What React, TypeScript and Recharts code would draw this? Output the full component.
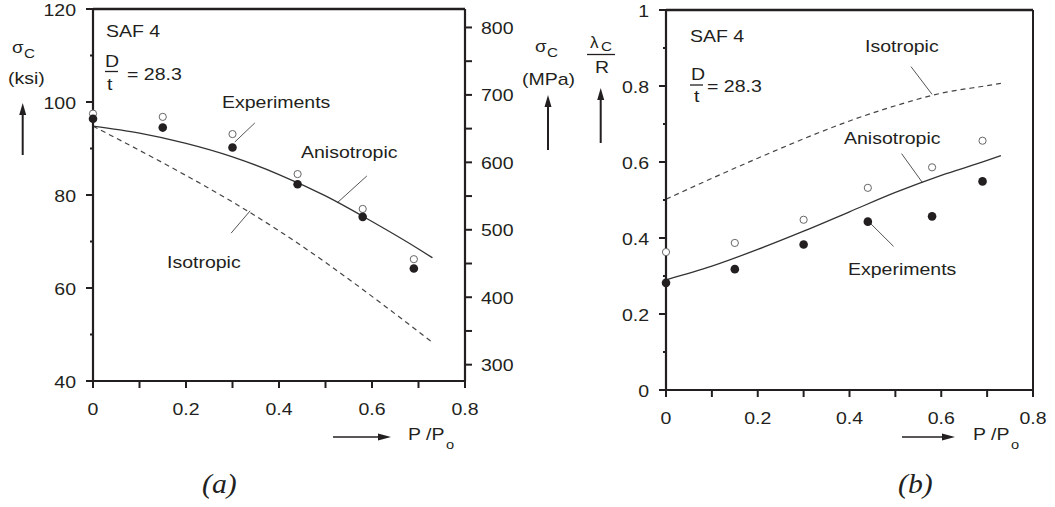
import React from 'react';
import { ComposedChart, Line, Scatter, XAxis, YAxis, ReferenceLine } from 'recharts';

const INK = '#231f20';
const FONT = '"Liberation Sans", Arial, Helvetica, sans-serif';
const SX = 1.22; // the scanned figure is stretched sideways

// P/Po of the six specimens
const loadRatio = [0, 0.15, 0.3, 0.44, 0.58, 0.69];
// (a) buckling stress, ksi
const stressExpFilled = [96.4, 94.5, 90.2, 82.3, 75.3, 64.2];
const stressExpOpen = [97.5, 96.8, 93.1, 84.5, 77.0, 66.2];
// theory curves
const curveRatio = [0, 0.1, 0.2, 0.3, 0.4, 0.5, 0.6, 0.7, 0.73];
const stressAniso = [94.8, 93.3, 91.1, 88.2, 84.4, 79.8, 74.3, 68.4, 66.5];
const stressIso = [94.8, 89.6, 84.2, 78.5, 72.3, 65.5, 58.2, 50.6, 48.3];
// (b) wavelength lambda_c / R
const waveExpFilled = [0.282, 0.318, 0.383, 0.443, 0.457, 0.549];
const waveExpOpen = [0.363, 0.387, 0.448, 0.532, 0.586, 0.656];
const waveAniso = [0.29, 0.326, 0.37, 0.418, 0.469, 0.52, 0.565, 0.604, 0.617];
const waveIso = [0.502, 0.557, 0.61, 0.661, 0.708, 0.748, 0.781, 0.801, 0.807];

// axis ticks
const ratioTicks = [0, 0.1, 0.2, 0.3, 0.4, 0.5, 0.6, 0.7, 0.8];
const ksiTicks = [40, 50, 60, 70, 80, 90, 100, 110, 120];
const mpaTicks = [300, 350, 400, 450, 500, 550, 600, 650, 700, 750, 800];
const waveTicks = [0, 0.1, 0.2, 0.3, 0.4, 0.5, 0.6, 0.7, 0.8, 0.9, 1];
const KSI_TO_MPA = 6.894757;

// leader lines, in data units: [x1, y1, x2, y2]
const leadersA = [
  [0.305, 91.4, 0.348, 95.5],
  [0.525, 78.3, 0.589, 84.1],
  [0.297, 71.8, 0.338, 76.6],
];
const leadersB = [
  [0.534, 0.851, 0.58, 0.778],
  [0.5135, 0.622, 0.5595, 0.545],
  [0.446, 0.438, 0.496, 0.378],
];

const pts = (xs: number[], ys: number[]) => xs.map((x, i) => ({ x, y: ys[i] }));

const isStep = (v: number, step: number) => Math.abs(v / step - Math.round(v / step)) < 1e-6;
const fmt = (v: number) => (v === 0 ? '0' : v === 1 ? '1' : Number.isInteger(v) ? String(v) : v.toFixed(1));

const Txt = ({ x, y, children, size = 16, anchor = 'start', sx = SX, family = FONT, italic = false }: any) => (
  <text
    transform={`translate(${x},${y}) scale(${sx},1)`}
    textAnchor={anchor}
    fontSize={size}
    fontFamily={family}
    fontStyle={italic ? 'italic' : 'normal'}
    fill={INK}
  >
    {children}
  </text>
);

const leftTick = (step: number) => (props: any) => {
  const { x, y, payload } = props;
  const major = isStep(payload.value, step);
  return (
    <g>
      <line x1={x - (major ? 7 : 3)} x2={x} y1={y} y2={y} stroke={INK} strokeWidth={2} />
      {major && <Txt x={x - 17} y={y + 7} anchor="end">{fmt(payload.value)}</Txt>}
    </g>
  );
};

const rightTick = (props: any) => {
  const { x, y, payload } = props;
  const major = isStep(payload.value, 100);
  return (
    <g>
      <line x1={x} x2={x + 7} y1={y} y2={y} stroke={INK} strokeWidth={2} />
      {major && <Txt x={x + 16} y={y + 6.5}>{payload.value}</Txt>}
    </g>
  );
};

const bottomTick = (props: any) => {
  const { x, y, payload } = props;
  const major = isStep(payload.value, 0.2);
  return (
    <g>
      <line x1={x} x2={x} y1={y} y2={y + 7} stroke={INK} strokeWidth={2} />
      {major && <Txt x={x} y={y + 34} anchor="middle">{fmt(payload.value)}</Txt>}
    </g>
  );
};

const filledDot = (p: any) => <circle cx={p.cx} cy={p.cy} r={4.3} fill={INK} />;
const openDot = (p: any) => <circle cx={p.cx} cy={p.cy} r={3.6} fill="#fff" stroke="#666" strokeWidth={1} />;

const UpArrow = ({ x, y1, y2 }: any) => (
  <g>
    <line x1={x} x2={x} y1={y1} y2={y2 + 10} stroke={INK} strokeWidth={2} />
    <polygon points={`${x},${y2} ${x - 3.5},${y2 + 12} ${x + 3.5},${y2 + 12}`} fill={INK} />
  </g>
);
const RightArrow = ({ x1, x2, y }: any) => (
  <g>
    <line x1={x1} x2={x2 - 10} y1={y} y2={y} stroke={INK} strokeWidth={1.6} />
    <polygon points={`${x2},${y} ${x2 - 13},${y - 3.5} ${x2 - 13},${y + 3.5}`} fill={INK} />
  </g>
);

const ChartA = () => (
  <ComposedChart width={540} height={430} margin={{ top: 9, right: 15, bottom: 9, left: 43 }}>
    <XAxis
      type="number"
      dataKey="x"
      domain={[0, 0.8]}
      ticks={ratioTicks}
      interval={0}
      height={40}
      tickSize={0}
      tickMargin={0}
      tickLine={false}
      axisLine={{ stroke: INK, strokeWidth: 2.2 }}
      tick={bottomTick}
    />
    <YAxis
      yAxisId="ksi"
      type="number"
      domain={[40, 120]}
      ticks={ksiTicks}
      interval={0}
      width={50}
      tickSize={0}
      tickMargin={0}
      tickLine={false}
      axisLine={{ stroke: INK, strokeWidth: 2.2 }}
      tick={leftTick(20)}
    />
    <YAxis
      yAxisId="mpa"
      orientation="right"
      type="number"
      domain={[40 * KSI_TO_MPA, 120 * KSI_TO_MPA]}
      ticks={mpaTicks}
      interval={0}
      width={60}
      tickSize={0}
      tickMargin={0}
      tickLine={false}
      axisLine={{ stroke: INK, strokeWidth: 2.2 }}
      tick={rightTick}
      allowDataOverflow
    />
    <ReferenceLine yAxisId="ksi" y={120} stroke={INK} strokeWidth={2.5} />
    {leadersA.map((l, i) => (
      <ReferenceLine
        key={i}
        yAxisId="ksi"
        segment={[{ x: l[0], y: l[1] }, { x: l[2], y: l[3] }]}
        stroke="#555"
        strokeWidth={1}
        ifOverflow="visible"
      />
    ))}
    <Line yAxisId="ksi" data={pts(curveRatio, stressIso)} dataKey="y" type="monotone" dot={false}
      stroke="#444" strokeWidth={1.2} strokeDasharray="5 4" isAnimationActive={false} />
    <Line yAxisId="ksi" data={pts(curveRatio, stressAniso)} dataKey="y" type="monotone" dot={false}
      stroke="#333" strokeWidth={1.3} isAnimationActive={false} />
    <Scatter yAxisId="ksi" data={pts(loadRatio, stressExpOpen)} dataKey="y" shape={openDot} isAnimationActive={false} />
    <Scatter yAxisId="ksi" data={pts(loadRatio, stressExpFilled)} dataKey="y" shape={filledDot} isAnimationActive={false} />
  </ComposedChart>
);

const ChartB = () => (
  <ComposedChart width={495} height={430} margin={{ top: 10, right: 22, bottom: 0, left: 56 }}>
    <XAxis
      type="number"
      dataKey="x"
      domain={[0, 0.8]}
      ticks={ratioTicks}
      interval={0}
      height={40}
      tickSize={0}
      tickMargin={0}
      tickLine={false}
      axisLine={{ stroke: INK, strokeWidth: 2.2 }}
      tick={bottomTick}
    />
    <YAxis
      yAxisId="lam"
      type="number"
      domain={[0, 1]}
      ticks={waveTicks}
      interval={0}
      width={50}
      tickSize={0}
      tickMargin={0}
      tickLine={false}
      axisLine={{ stroke: INK, strokeWidth: 2.2 }}
      tick={leftTick(0.2)}
    />
    <ReferenceLine yAxisId="lam" y={1} stroke={INK} strokeWidth={2.5} />
    <ReferenceLine yAxisId="lam" x={0.8} stroke={INK} strokeWidth={2} />
    {leadersB.map((l, i) => (
      <ReferenceLine
        key={i}
        yAxisId="lam"
        segment={[{ x: l[0], y: l[1] }, { x: l[2], y: l[3] }]}
        stroke="#555"
        strokeWidth={1}
        ifOverflow="visible"
      />
    ))}
    <Line yAxisId="lam" data={pts(curveRatio, waveIso)} dataKey="y" type="monotone" dot={false}
      stroke="#444" strokeWidth={1.2} strokeDasharray="5 4" isAnimationActive={false} />
    <Line yAxisId="lam" data={pts(curveRatio, waveAniso)} dataKey="y" type="monotone" dot={false}
      stroke="#333" strokeWidth={1.3} isAnimationActive={false} />
    <Scatter yAxisId="lam" data={pts(loadRatio, waveExpOpen)} dataKey="y" shape={openDot} isAnimationActive={false} />
    <Scatter yAxisId="lam" data={pts(loadRatio, waveExpFilled)} dataKey="y" shape={filledDot} isAnimationActive={false} />
  </ComposedChart>
);

const Annotations = () => (
  <svg width={1055} height={507} style={{ position: 'absolute', left: 0, top: 0, pointerEvents: 'none' }}>
    {/* (a) */}
    <Txt x={106} y={37}>SAF 4</Txt>
    <Txt x={105} y={67}>D</Txt>
    <line x1={105} x2={118} y1={71.5} y2={71.5} stroke={INK} strokeWidth={1.3} />
    <Txt x={107} y={90}>t</Txt>
    <Txt x={127} y={80}>= 28.3</Txt>
    <Txt x={12} y={53} size={17} sx={1.1}>σ</Txt>
    <Txt x={24} y={58} size={12.5}>C</Txt>
    <Txt x={8} y={84}>(ksi)</Txt>
    <UpArrow x={22.7} y1={155} y2={103} />
    <Txt x={535} y={52} size={17} sx={1.1}>σ</Txt>
    <Txt x={547} y={57} size={12.5}>C</Txt>
    <Txt x={522} y={85}>(MPa)</Txt>
    <UpArrow x={548} y1={150} y2={95} />
    <Txt x={222} y={108}>Experiments</Txt>
    <Txt x={301} y={158}>Anisotropic</Txt>
    <Txt x={167} y={268}>Isotropic</Txt>
    <RightArrow x1={333} x2={391} y={437} />
    <Txt x={408} y={440}>P /P</Txt>
    <Txt x={446} y={449} size={12}>o</Txt>
    <Txt x={202} y={493} size={27} sx={1.1} family='"Liberation Serif", "Times New Roman", serif' italic>(a)</Txt>

    {/* (b) */}
    <Txt x={690} y={42}>SAF 4</Txt>
    <Txt x={691} y={80}>D</Txt>
    <line x1={690} x2={703} y1={85} y2={85} stroke={INK} strokeWidth={1.3} />
    <Txt x={694} y={102}>t</Txt>
    <Txt x={707} y={92}>= 28.3</Txt>
    <Txt x={590} y={48} size={17} sx={1.0}>λ</Txt>
    <Txt x={601} y={51} size={12.5}>C</Txt>
    <line x1={587} x2={615} y1={54.5} y2={54.5} stroke={INK} strokeWidth={1.3} />
    <Txt x={595} y={73}>R</Txt>
    <UpArrow x={600.7} y1={143} y2={88} />
    <Txt x={865} y={52}>Isotropic</Txt>
    <Txt x={844} y={144}>Anisotropic</Txt>
    <Txt x={848} y={275}>Experiments</Txt>
    <RightArrow x1={902} x2={955} y={437} />
    <Txt x={973} y={440}>P /P</Txt>
    <Txt x={1011} y={449} size={12}>o</Txt>
    <Txt x={898} y={493} size={27} sx={1.1} family='"Liberation Serif", "Times New Roman", serif' italic>(b)</Txt>
  </svg>
);

export default function App() {
  return (
    <div style={{ position: 'absolute', left: 0, top: 0, width: 1055, height: 507, background: '#fff', overflow: 'hidden' }}>
      <div style={{ position: 'absolute', left: 0, top: 0 }}>
        <ChartA />
      </div>
      <div style={{ position: 'absolute', left: 560, top: 0 }}>
        <ChartB />
      </div>
      <Annotations />
    </div>
  );
}
